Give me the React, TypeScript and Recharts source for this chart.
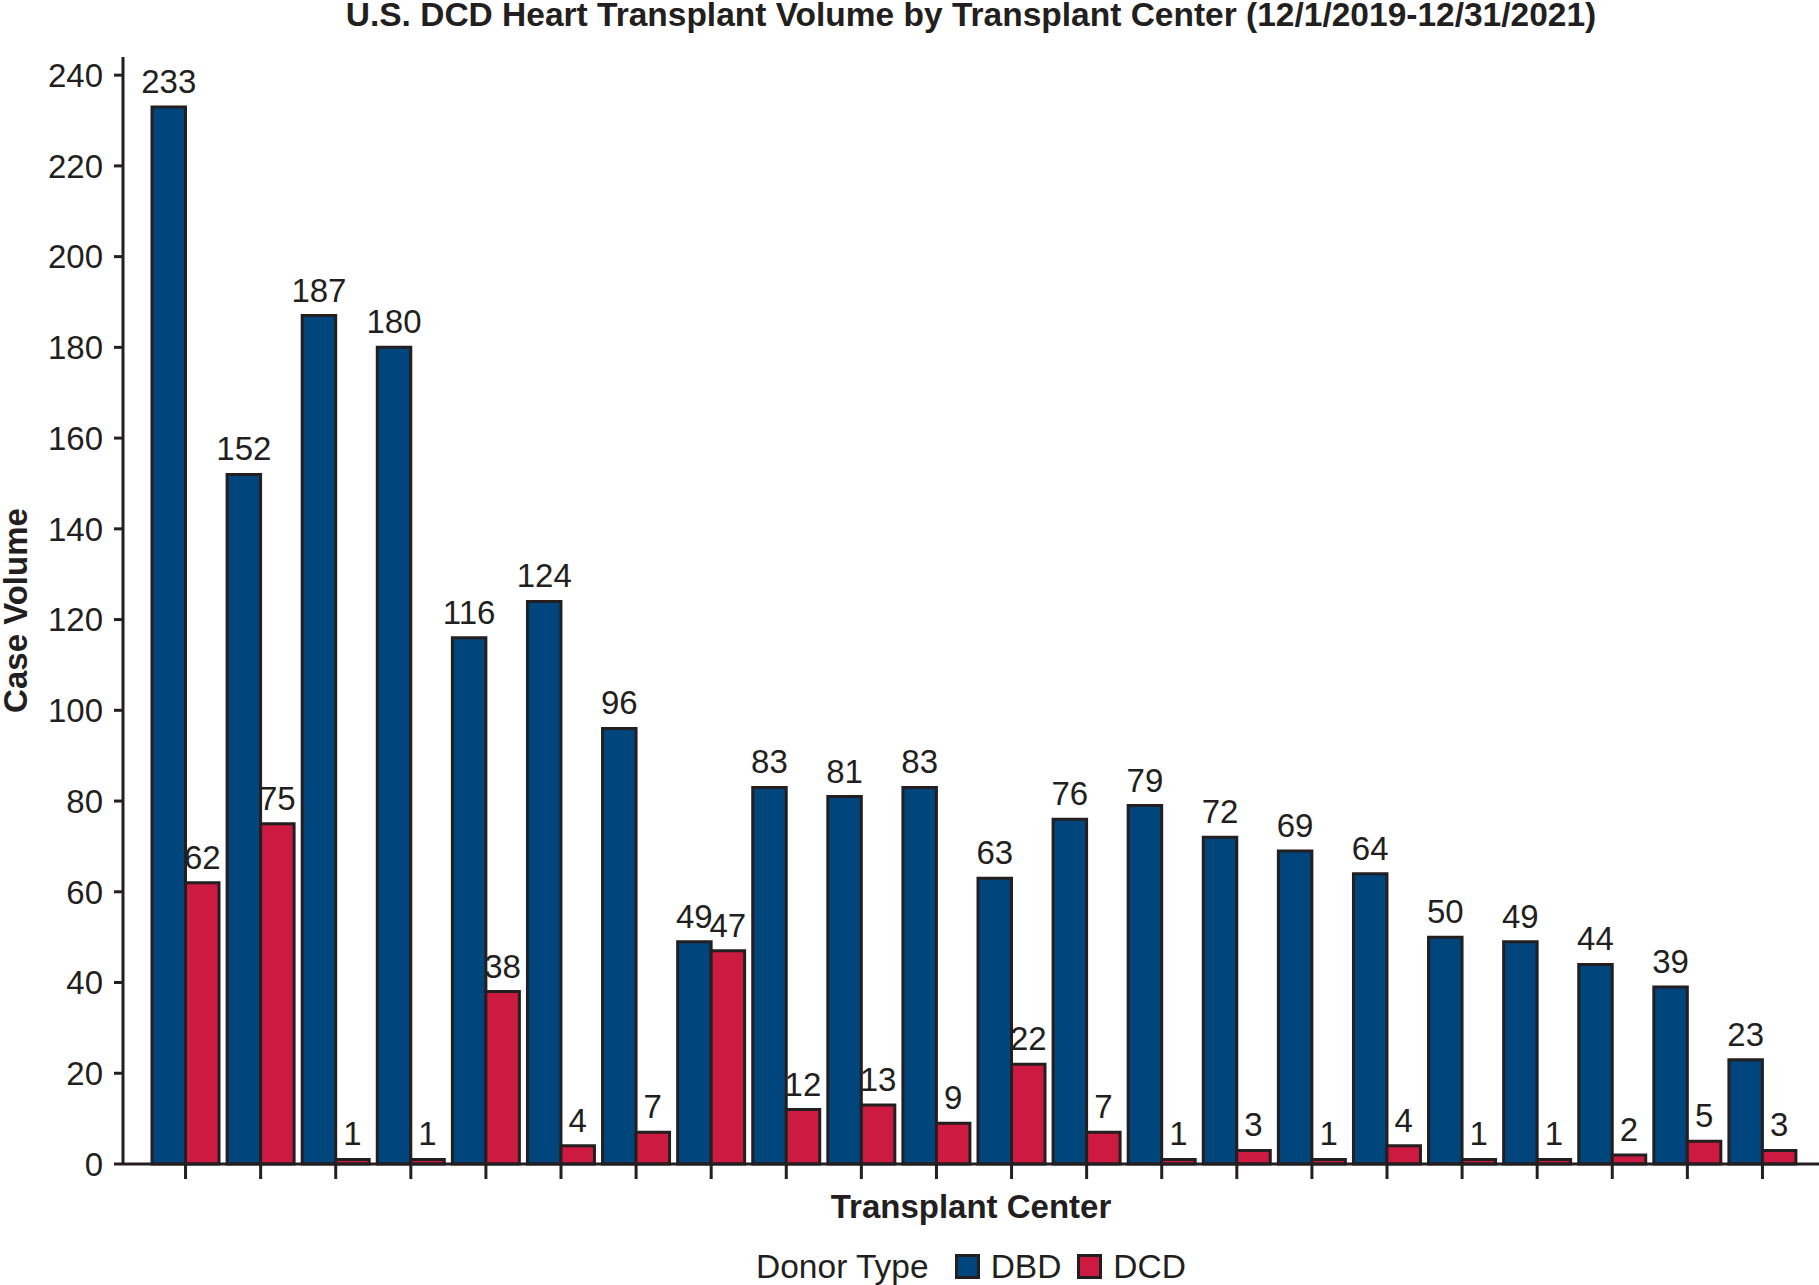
import React from 'react';
import { BarChart, Bar, XAxis, YAxis, LabelList, Legend } from 'recharts';

const centers = [
  'C1', 'C2', 'C3', 'C4', 'C5', 'C6', 'C7', 'C8', 'C9', 'C10', 'C11',
  'C12', 'C13', 'C14', 'C15', 'C16', 'C17', 'C18', 'C19', 'C20', 'C21', 'C22',
];
const dbdValues = [233, 152, 187, 180, 116, 124, 96, 49, 83, 81, 83, 63, 76, 79, 72, 69, 64, 50, 49, 44, 39, 23];
const dcdValues = [62, 75, 1, 1, 38, 4, 7, 47, 12, 13, 9, 22, 7, 1, 3, 1, 4, 1, 1, 2, 5, 3];
const yTicks = [0, 20, 40, 60, 80, 100, 120, 140, 160, 180, 200, 220, 240];
const titleText = 'U.S. DCD Heart Transplant Volume by Transplant Center (12/1/2019-12/31/2021)';
const xLabel = 'Transplant Center';
const yLabel = 'Case Volume';
const legendTitle = 'Donor Type';

const data = centers.map((c, i) => ({ center: c, DBD: dbdValues[i], DCD: dcdValues[i] }));

const INK = '#231f20';
const BLUE = '#00457c';
const RED = '#cc1a41';
const FONT = '"Liberation Sans", Arial, Helvetica, sans-serif';

const LegendContent = (props: any) => {
  const payload = props.payload || [];
  return (
    <div
      style={{
        display: 'flex',
        justifyContent: 'center',
        alignItems: 'center',
        fontFamily: FONT,
        fontSize: 33.5,
        lineHeight: 1,
        color: INK,
      }}
    >
      <span style={{ marginRight: 26 }}>{legendTitle}</span>
      {payload.map((p: any, i: number) => (
        <span key={i} style={{ display: 'flex', alignItems: 'center', marginRight: i < payload.length - 1 ? 16 : 0 }}>
          <span
            style={{
              display: 'inline-block',
              width: 19,
              height: 19,
              background: p.color,
              border: `3px solid ${INK}`,
              marginRight: 11,
            }}
          />
          <span>{p.value}</span>
        </span>
      ))}
    </div>
  );
};

export default function App() {
  return (
    <div
      style={{
        position: 'absolute',
        left: 0,
        top: 0,
        width: 1819,
        height: 1285,
        background: '#fff',
        fontFamily: FONT,
      }}
    >
      <div
        style={{
          position: 'absolute',
          top: 0,
          left: 123,
          width: 1696,
          textAlign: 'center',
          fontWeight: 'bold',
          fontSize: 33.5,
          lineHeight: '29px',
          color: INK,
          zIndex: 2,
        }}
      >
        {titleText}
      </div>
      <BarChart
        width={1819}
        height={1285}
        data={data}
        margin={{ top: 57, right: 0, left: 0, bottom: 0 }}
        barGap={0}
        style={{ fontFamily: FONT }}
      >
        <XAxis
          dataKey="center"
          height={121}
          interval={0}
          tickSize={15}
          tickFormatter={() => ''}
          axisLine={{ stroke: INK, strokeWidth: 3 }}
          tickLine={{ stroke: INK, strokeWidth: 3 }}
          padding={{ left: 25, right: 19 }}
          label={{
            content: (p: any) => {
              const vb = p.viewBox;
              return (
                <text
                  x={vb.x + vb.width / 2}
                  y={vb.y + 54}
                  textAnchor="middle"
                  fill={INK}
                  fontSize={33}
                  fontWeight="bold"
                  fontFamily={FONT}
                >
                  {xLabel}
                </text>
              );
            },
          }}
        />
        <YAxis
          width={123}
          domain={[0, 244]}
          ticks={yTicks}
          interval={0}
          tickSize={9}
          tickMargin={11}
          axisLine={{ stroke: INK, strokeWidth: 3 }}
          tickLine={{ stroke: INK, strokeWidth: 3 }}
          tick={{ fill: INK, fontSize: 33, fontFamily: FONT }}
          label={{
            content: (p: any) => {
              const vb = p.viewBox;
              const cx = 27;
              const cy = vb.y + vb.height / 2;
              return (
                <text
                  x={cx}
                  y={cy}
                  transform={`rotate(-90, ${cx}, ${cy})`}
                  textAnchor="middle"
                  fill={INK}
                  fontSize={33}
                  fontWeight="bold"
                  fontFamily={FONT}
                >
                  {yLabel}
                </text>
              );
            },
          }}
        />
        <Legend
          layout="horizontal"
          verticalAlign="middle"
          align="center"
          wrapperStyle={{ top: 1250, left: 123, width: 1696 }}
          content={<LegendContent />}
        />
        <Bar dataKey="DBD" name="DBD" fill={BLUE} stroke={INK} strokeWidth={3} barSize={33.5} isAnimationActive={false}>
          <LabelList dataKey="DBD" position="top" offset={14} fill={INK} fontSize={33} fontFamily={FONT} />
        </Bar>
        <Bar dataKey="DCD" name="DCD" fill={RED} stroke={INK} strokeWidth={3} barSize={33.5} isAnimationActive={false}>
          <LabelList dataKey="DCD" position="top" offset={14} fill={INK} fontSize={33} fontFamily={FONT} />
        </Bar>
      </BarChart>
    </div>
  );
}
